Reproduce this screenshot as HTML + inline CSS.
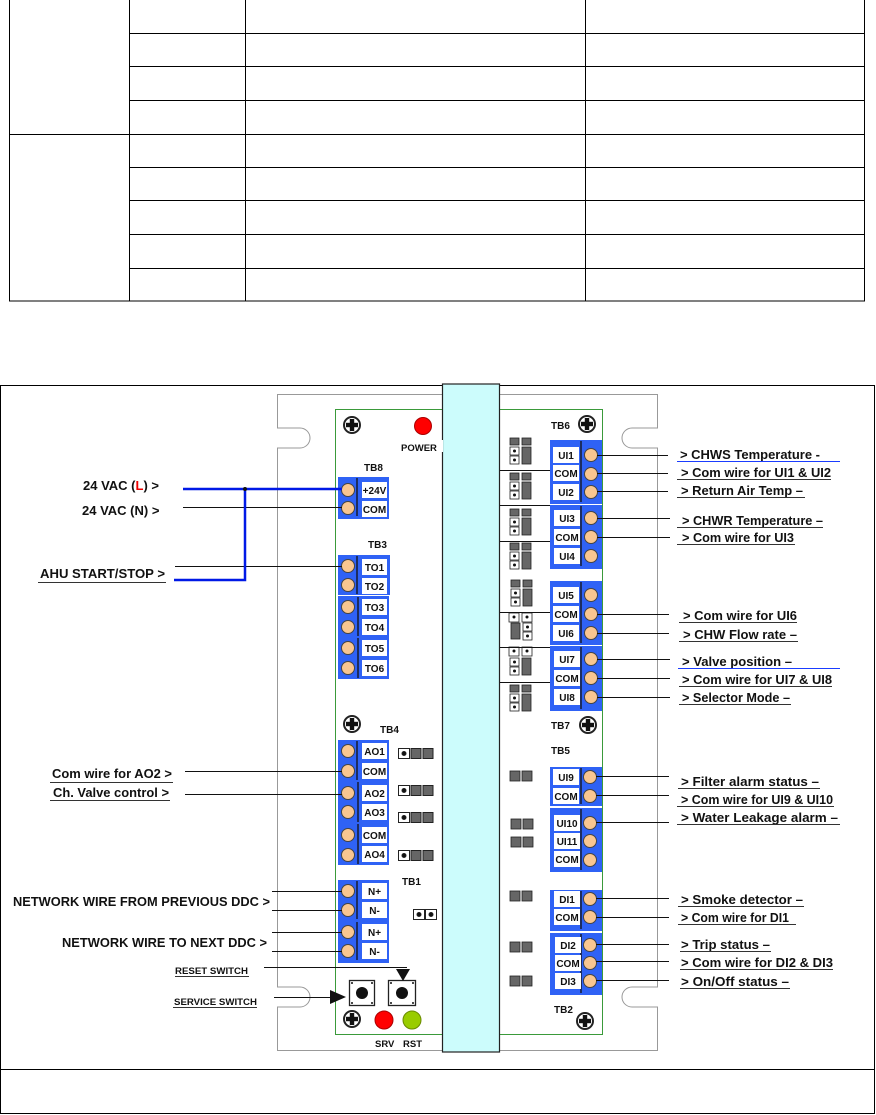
<!DOCTYPE html>
<html><head><meta charset="utf-8"><style>
html,body{margin:0;padding:0;background:#fff}
svg{display:block}
text{font-family:"Liberation Sans",sans-serif;font-weight:bold;fill:#111}
.t{font-size:13px}
.s{font-size:10px}
.lb{font-size:10px;text-anchor:middle}
</style></head><body>
<svg width="876" height="1115" viewBox="0 0 876 1115" xmlns="http://www.w3.org/2000/svg">
<g stroke="#000" stroke-width="1" fill="none">
<rect x="9.5" y="-1" width="855" height="302"/>
<line x1="129.5" y1="0" x2="129.5" y2="301"/>
<line x1="245.5" y1="0" x2="245.5" y2="301"/>
<line x1="585.5" y1="0" x2="585.5" y2="301"/>
<line x1="129" y1="33.5" x2="864" y2="33.5"/>
<line x1="129" y1="66.5" x2="864" y2="66.5"/>
<line x1="129" y1="100.5" x2="864" y2="100.5"/>
<line x1="9" y1="134.5" x2="864" y2="134.5"/>
<line x1="129" y1="167.5" x2="864" y2="167.5"/>
<line x1="129" y1="200.5" x2="864" y2="200.5"/>
<line x1="129" y1="234.5" x2="864" y2="234.5"/>
<line x1="129" y1="268.5" x2="864" y2="268.5"/>
</g>
<g stroke="#000" fill="none">
<rect x="0.5" y="385.5" width="874" height="728"/>
<line x1="0" y1="1069.5" x2="875" y2="1069.5"/>
</g>
<path d="M277.5 394.5 H657.5 V428 H632 a10 10 0 0 0 0 20 H657.5 V987 H632 a10 10 0 0 0 0 20 H657.5 V1050.5 H277.5 V1007 H300 a10 10 0 0 0 0 -20 H277.5 V448 H300 a10 10 0 0 0 0 -20 H277.5 Z" fill="#fff" stroke="#999" stroke-width="1"/>
<rect x="335.5" y="409.5" width="267" height="625" fill="#fff" stroke="#3a9a3a" stroke-width="1"/>
<rect x="442.5" y="384" width="57" height="668" fill="#ccfcfc" stroke="#222" stroke-width="1.2"/>
<rect x="435" y="440" width="8" height="12" fill="#fff"/>
<g>
<g transform="translate(352,425)"><circle r="8" fill="#fff" stroke="#222" stroke-width="2"/><rect x="-2.2" y="-6" width="4.4" height="12" fill="#111"/><rect x="-6" y="-2.2" width="12" height="4.4" fill="#111"/></g>
<g transform="translate(587,424)"><circle r="8" fill="#fff" stroke="#222" stroke-width="2"/><rect x="-2.2" y="-6" width="4.4" height="12" fill="#111"/><rect x="-6" y="-2.2" width="12" height="4.4" fill="#111"/></g>
<g transform="translate(352,724)"><circle r="8" fill="#fff" stroke="#222" stroke-width="2"/><rect x="-2.2" y="-6" width="4.4" height="12" fill="#111"/><rect x="-6" y="-2.2" width="12" height="4.4" fill="#111"/></g>
<g transform="translate(588,725)"><circle r="8" fill="#fff" stroke="#222" stroke-width="2"/><rect x="-2.2" y="-6" width="4.4" height="12" fill="#111"/><rect x="-6" y="-2.2" width="12" height="4.4" fill="#111"/></g>
<g transform="translate(352,1019)"><circle r="8" fill="#fff" stroke="#222" stroke-width="2"/><rect x="-2.2" y="-6" width="4.4" height="12" fill="#111"/><rect x="-6" y="-2.2" width="12" height="4.4" fill="#111"/></g>
<g transform="translate(585,1021)"><circle r="8" fill="#fff" stroke="#222" stroke-width="2"/><rect x="-2.2" y="-6" width="4.4" height="12" fill="#111"/><rect x="-6" y="-2.2" width="12" height="4.4" fill="#111"/></g>
</g>
<circle cx="423" cy="426" r="8.5" fill="#f00" stroke="#a00"/>
<circle cx="384" cy="1020" r="9" fill="#f00" stroke="#a00"/>
<circle cx="412" cy="1020" r="9" fill="#99cc00" stroke="#6a8a00"/>
<text x="401" y="451" class="s" style="font-size:9.5px">POWER</text>
<text x="375" y="1047" class="s" style="font-size:9.5px">SRV</text>
<text x="403" y="1047" class="s" style="font-size:9.5px">RST</text>
<text x="364" y="471" class="s">TB8</text>
<text x="368" y="548" class="s">TB3</text>
<text x="380" y="733" class="s">TB4</text>
<text x="402" y="885" class="s">TB1</text>
<text x="551" y="429" class="s">TB6</text>
<text x="551" y="729" class="s">TB7</text>
<text x="551" y="754" class="s">TB5</text>
<text x="554" y="1013" class="s">TB2</text>

<g fill="#2f62f5">
<rect x="338" y="477" width="51" height="42"/>
<rect x="338" y="555" width="52" height="40"/>
<rect x="338" y="596" width="51" height="83"/>
<rect x="338" y="740" width="51" height="125"/>
<rect x="338" y="880" width="51" height="41"/>
<rect x="338" y="921" width="51" height="42"/>
</g>
<g stroke="#111" stroke-width="1.3">
<line x1="357" y1="478" x2="357" y2="516"/>
<line x1="357" y1="556" x2="357" y2="594"/>
<line x1="358" y1="597" x2="358" y2="636"/>
<line x1="358" y1="638" x2="358" y2="678"/>
<line x1="357" y1="741" x2="357" y2="780"/>
<line x1="358" y1="782" x2="358" y2="822"/>
<line x1="358" y1="824" x2="358" y2="864"/>
<line x1="357" y1="881" x2="357" y2="919"/>
<line x1="357" y1="922" x2="357" y2="960"/>
</g>
<g fill="#fff">
<rect x="362" y="482" width="25" height="16"/><rect x="362" y="501" width="25" height="16"/>
<rect x="362" y="559" width="25" height="16"/><rect x="362" y="578" width="25" height="16"/>
<rect x="362" y="599" width="25" height="16"/><rect x="362" y="619" width="25" height="16"/>
<rect x="362" y="640" width="25" height="16"/><rect x="362" y="660" width="25" height="16"/>
<rect x="362" y="743" width="25" height="16"/><rect x="362" y="763" width="25" height="16"/>
<rect x="362" y="785" width="25" height="16"/><rect x="362" y="804" width="25" height="16"/>
<rect x="362" y="827" width="25" height="16"/><rect x="362" y="846" width="25" height="16"/>
<rect x="362" y="883" width="25" height="16"/><rect x="362" y="902" width="25" height="16"/>
<rect x="362" y="924" width="25" height="16"/><rect x="362" y="943" width="25" height="16"/>
</g>
<g>
<text x="374.5" y="494" class="lb">+24V</text><text x="374.5" y="513" class="lb">COM</text>
<text x="374.5" y="571" class="lb">TO1</text><text x="374.5" y="590" class="lb">TO2</text>
<text x="374.5" y="611" class="lb">TO3</text><text x="374.5" y="631" class="lb">TO4</text>
<text x="374.5" y="652" class="lb">TO5</text><text x="374.5" y="672" class="lb">TO6</text>
<text x="374.5" y="755" class="lb">AO1</text><text x="374.5" y="775" class="lb">COM</text>
<text x="374.5" y="797" class="lb">AO2</text><text x="374.5" y="816" class="lb">AO3</text>
<text x="374.5" y="839" class="lb">COM</text><text x="374.5" y="858" class="lb">AO4</text>
<text x="374.5" y="895" class="lb">N+</text><text x="374.5" y="914" class="lb">N-</text>
<text x="374.5" y="936" class="lb">N+</text><text x="374.5" y="955" class="lb">N-</text>
</g>
<g fill="#f9c690" stroke="#444" stroke-width="1">
<circle cx="348" cy="490" r="6.5"/><circle cx="348" cy="508" r="6.5"/>
<circle cx="348" cy="566" r="6.5"/><circle cx="348" cy="585" r="6.5"/>
<circle cx="348" cy="607" r="6.5"/><circle cx="348" cy="627" r="6.5"/>
<circle cx="348" cy="648" r="6.5"/><circle cx="348" cy="668" r="6.5"/>
<circle cx="348" cy="751" r="6.5"/><circle cx="348" cy="771" r="6.5"/>
<circle cx="348" cy="793" r="6.5"/><circle cx="348" cy="812" r="6.5"/>
<circle cx="348" cy="835" r="6.5"/><circle cx="348" cy="855" r="6.5"/>
<circle cx="348" cy="891" r="6.5"/><circle cx="348" cy="910" r="6.5"/>
<circle cx="348" cy="932" r="6.5"/><circle cx="348" cy="951" r="6.5"/>
</g>
<g stroke="#222" stroke-width="1">
<g transform="translate(398,748)"><rect x="0.5" y="0.5" width="11" height="10" fill="#fff"/><circle cx="6" cy="5.5" r="2" fill="#111"/><rect x="13" y="0.5" width="10" height="10" fill="#666"/><rect x="25" y="0.5" width="10" height="10" fill="#666"/></g>
<g transform="translate(398,785)"><rect x="0.5" y="0.5" width="11" height="10" fill="#fff"/><circle cx="6" cy="5.5" r="2" fill="#111"/><rect x="13" y="0.5" width="10" height="10" fill="#666"/><rect x="25" y="0.5" width="10" height="10" fill="#666"/></g>
<g transform="translate(398,812)"><rect x="0.5" y="0.5" width="11" height="10" fill="#fff"/><circle cx="6" cy="5.5" r="2" fill="#111"/><rect x="13" y="0.5" width="10" height="10" fill="#666"/><rect x="25" y="0.5" width="10" height="10" fill="#666"/></g>
<g transform="translate(398,850)"><rect x="0.5" y="0.5" width="11" height="10" fill="#fff"/><circle cx="6" cy="5.5" r="2" fill="#111"/><rect x="13" y="0.5" width="10" height="10" fill="#666"/><rect x="25" y="0.5" width="10" height="10" fill="#666"/></g>
<g transform="translate(413,909)"><rect x="0.5" y="0.5" width="11" height="10" fill="#fff"/><circle cx="6" cy="5.5" r="2" fill="#111"/><rect x="12.5" y="0.5" width="11" height="10" fill="#fff"/><circle cx="18" cy="5.5" r="2" fill="#111"/></g>
</g>
<g stroke="#222" stroke-width="1.3" fill="#fff">
<rect x="349.5" y="980.5" width="25" height="25"/>
<rect x="388.5" y="980.5" width="27" height="25"/>
</g>
<circle cx="362" cy="993" r="6" fill="#111"/>
<circle cx="402" cy="993" r="6" fill="#111"/>
<g fill="#111"><circle cx="352" cy="983" r="1"/><circle cx="372" cy="983" r="1"/><circle cx="352" cy="1003" r="1"/><circle cx="372" cy="1003" r="1"/>
<circle cx="391" cy="983" r="1"/><circle cx="413" cy="983" r="1"/><circle cx="391" cy="1003" r="1"/><circle cx="413" cy="1003" r="1"/></g>
<polygon points="330,990 346,997 330,1004" fill="#111"/>
<polygon points="396,969 410,969 403,981" fill="#111"/>

<g fill="#2f62f5">
<rect x="550" y="440" width="52" height="64"/>
<rect x="550" y="505" width="52" height="64"/>
<rect x="550" y="581" width="52" height="64"/>
<rect x="550" y="646" width="52" height="65"/>
<rect x="550" y="767" width="52" height="39"/>
<rect x="550" y="808" width="52" height="64"/>
<rect x="550" y="890" width="52" height="41"/>
<rect x="550" y="933" width="52" height="62"/>
</g>
<g stroke="#111" stroke-width="1.3">
<line x1="581" y1="441" x2="581" y2="502"/><line x1="581" y1="506" x2="581" y2="566"/>
<line x1="581" y1="582" x2="581" y2="643"/><line x1="581" y1="647" x2="581" y2="709"/>
<line x1="581" y1="768" x2="581" y2="804"/><line x1="581" y1="809" x2="581" y2="870"/>
<line x1="581" y1="891" x2="581" y2="929"/><line x1="581" y1="934" x2="581" y2="993"/>
</g>
<g fill="#fff">
<rect x="553" y="447" width="26" height="16"/><rect x="553" y="465" width="26" height="16"/><rect x="553" y="484" width="26" height="16"/>
<rect x="554" y="510" width="26" height="16"/><rect x="554" y="529" width="26" height="16"/><rect x="554" y="548" width="26" height="16"/>
<rect x="553" y="587" width="26" height="16"/><rect x="553" y="606" width="26" height="16"/><rect x="553" y="625" width="26" height="16"/>
<rect x="554" y="651" width="26" height="16"/><rect x="554" y="670" width="26" height="16"/><rect x="554" y="689" width="26" height="16"/>
<rect x="553" y="769" width="26" height="16"/><rect x="553" y="788" width="26" height="16"/>
<rect x="554" y="815" width="26" height="16"/><rect x="554" y="833" width="26" height="16"/><rect x="554" y="851" width="26" height="16"/>
<rect x="554" y="891" width="26" height="16"/><rect x="554" y="909" width="26" height="16"/>
<rect x="555" y="937" width="26" height="16"/><rect x="555" y="955" width="26" height="16"/><rect x="555" y="973" width="26" height="16"/>
</g>
<g>
<text x="566" y="459" class="lb">UI1</text><text x="566" y="477" class="lb">COM</text><text x="566" y="496" class="lb">UI2</text>
<text x="567" y="522" class="lb">UI3</text><text x="567" y="541" class="lb">COM</text><text x="567" y="560" class="lb">UI4</text>
<text x="566" y="599" class="lb">UI5</text><text x="566" y="618" class="lb">COM</text><text x="566" y="637" class="lb">UI6</text>
<text x="567" y="663" class="lb">UI7</text><text x="567" y="682" class="lb">COM</text><text x="567" y="701" class="lb">UI8</text>
<text x="566" y="781" class="lb">UI9</text><text x="566" y="800" class="lb">COM</text>
<text x="567" y="827" class="lb">UI10</text><text x="567" y="845" class="lb">UI11</text><text x="567" y="863" class="lb">COM</text>
<text x="567" y="903" class="lb">DI1</text><text x="567" y="921" class="lb">COM</text>
<text x="568" y="949" class="lb">DI2</text><text x="568" y="967" class="lb">COM</text><text x="568" y="985" class="lb">DI3</text>
</g>
<g fill="#f9c690" stroke="#444" stroke-width="1">
<circle cx="591" cy="455" r="6.5"/><circle cx="591" cy="474" r="6.5"/><circle cx="591" cy="492" r="6.5"/>
<circle cx="591" cy="518" r="6.5"/><circle cx="591" cy="537" r="6.5"/><circle cx="591" cy="556" r="6.5"/>
<circle cx="591" cy="595" r="6.5"/><circle cx="591" cy="614" r="6.5"/><circle cx="591" cy="633" r="6.5"/>
<circle cx="591" cy="659" r="6.5"/><circle cx="591" cy="678" r="6.5"/><circle cx="591" cy="697" r="6.5"/>
<circle cx="590" cy="777" r="6.5"/><circle cx="590" cy="796" r="6.5"/>
<circle cx="590" cy="823" r="6.5"/><circle cx="590" cy="841" r="6.5"/><circle cx="590" cy="860" r="6.5"/>
<circle cx="590" cy="899" r="6.5"/><circle cx="590" cy="917" r="6.5"/>
<circle cx="590" cy="945" r="6.5"/><circle cx="590" cy="963" r="6.5"/><circle cx="590" cy="981" r="6.5"/>
</g>
<g stroke="#222" stroke-width="0.8" fill="#666">
<rect x="510" y="438" width="9" height="7"/><rect x="522" y="438" width="9" height="7"/><rect x="510" y="447" width="9" height="8" fill="#fff"/><rect x="510" y="456" width="9" height="8" fill="#fff"/><rect x="522" y="447" width="9" height="17"/>
<rect x="510" y="473" width="9" height="7"/><rect x="522" y="473" width="9" height="7"/><rect x="510" y="482" width="9" height="8" fill="#fff"/><rect x="510" y="491" width="9" height="8" fill="#fff"/><rect x="522" y="482" width="9" height="17"/>
<rect x="510" y="509" width="9" height="7"/><rect x="522" y="509" width="9" height="7"/><rect x="510" y="518" width="9" height="8" fill="#fff"/><rect x="510" y="527" width="9" height="8" fill="#fff"/><rect x="522" y="518" width="9" height="17"/>
<rect x="510" y="543" width="9" height="7"/><rect x="522" y="543" width="9" height="7"/><rect x="510" y="552" width="9" height="8" fill="#fff"/><rect x="510" y="561" width="9" height="8" fill="#fff"/><rect x="522" y="552" width="9" height="17"/>
<rect x="511" y="580" width="9" height="7"/><rect x="523" y="580" width="9" height="7"/><rect x="511" y="589" width="9" height="8" fill="#fff"/><rect x="511" y="598" width="9" height="8" fill="#fff"/><rect x="523" y="589" width="9" height="17"/>
<rect x="509" y="613" width="10" height="9" fill="#fff"/><rect x="522" y="613" width="10" height="9" fill="#fff"/><rect x="511" y="623" width="9" height="16"/><rect x="523" y="623" width="9" height="8" fill="#fff"/><rect x="523" y="632" width="9" height="8" fill="#fff"/>
<rect x="509" y="647" width="10" height="9" fill="#fff"/><rect x="522" y="647" width="10" height="9" fill="#fff"/><rect x="510" y="658" width="9" height="8" fill="#fff"/><rect x="510" y="667" width="9" height="8" fill="#fff"/><rect x="522" y="658" width="9" height="17"/>
<rect x="510" y="685" width="9" height="7"/><rect x="522" y="685" width="9" height="7"/><rect x="510" y="694" width="9" height="8" fill="#fff"/><rect x="510" y="703" width="9" height="8" fill="#fff"/><rect x="522" y="694" width="9" height="17"/>
<rect x="510" y="771" width="10" height="10"/><rect x="522" y="771" width="10" height="10"/>
<rect x="511" y="819" width="10" height="10"/><rect x="523" y="819" width="10" height="10"/>
<rect x="511" y="837" width="10" height="10"/><rect x="523" y="837" width="10" height="10"/>
<rect x="510" y="891" width="10" height="10"/><rect x="522" y="891" width="10" height="10"/>
<rect x="510" y="942" width="10" height="10"/><rect x="522" y="942" width="10" height="10"/>
<rect x="510" y="976" width="10" height="10"/><rect x="522" y="976" width="10" height="10"/>
</g>
<g fill="#111"><circle cx="514.5" cy="451" r="1.5"/><circle cx="514.5" cy="460" r="1.5"/><circle cx="514.5" cy="486" r="1.5"/><circle cx="514.5" cy="495" r="1.5"/><circle cx="514.5" cy="522" r="1.5"/><circle cx="514.5" cy="531" r="1.5"/><circle cx="514.5" cy="556" r="1.5"/><circle cx="514.5" cy="565" r="1.5"/><circle cx="515.5" cy="593" r="1.5"/><circle cx="515.5" cy="602" r="1.5"/><circle cx="514" cy="617" r="1.5"/><circle cx="527" cy="617" r="1.5"/><circle cx="527.5" cy="627" r="1.5"/><circle cx="527.5" cy="636" r="1.5"/><circle cx="514" cy="651" r="1.5"/><circle cx="527" cy="651" r="1.5"/><circle cx="514.5" cy="662" r="1.5"/><circle cx="514.5" cy="671" r="1.5"/><circle cx="514.5" cy="698" r="1.5"/><circle cx="514.5" cy="707" r="1.5"/></g>
<g stroke="#111" stroke-width="1">
<line x1="500" y1="470.5" x2="550" y2="470.5"/>
<line x1="500" y1="505.5" x2="550" y2="505.5"/>
<line x1="500" y1="541.5" x2="550" y2="541.5"/>
<line x1="500" y1="612.5" x2="550" y2="612.5"/>
<line x1="500" y1="647.5" x2="550" y2="647.5"/>
<line x1="500" y1="682.5" x2="550" y2="682.5"/>
</g>

<g stroke="#111" stroke-width="1">
<line x1="183" y1="507.5" x2="342" y2="507.5"/>
<line x1="175" y1="566.5" x2="342" y2="566.5"/>
<line x1="185" y1="771.5" x2="342" y2="771.5"/>
<line x1="185" y1="794.5" x2="342" y2="794.5"/>
<line x1="272" y1="891.5" x2="342" y2="891.5"/>
<line x1="272" y1="910.5" x2="342" y2="910.5"/>
<line x1="272" y1="932.5" x2="342" y2="932.5"/>
<line x1="272" y1="951.5" x2="342" y2="951.5"/>
<line x1="264" y1="967.5" x2="407" y2="967.5"/>
<line x1="274" y1="997.5" x2="332" y2="997.5"/>
</g>
<g stroke="#0019e6" stroke-width="2.5" fill="none">
<polyline points="183,489 342,489"/>
<polyline points="245,489 245,580 174,580"/>
</g>
<circle cx="245" cy="489" r="2" fill="#111"/>

<text x="83" y="490" class="t">24 VAC (<tspan style="fill:#e00">L</tspan>)  &gt;</text>
<text x="82" y="515" class="t">24 VAC (N)  &gt;</text>
<text x="40" y="578" class="t" textLength="125" lengthAdjust="spacingAndGlyphs">AHU START/STOP &gt;</text>
<line x1="38" y1="582.5" x2="166" y2="582.5" stroke="#333"/>
<text x="52" y="778" class="t" textLength="120" lengthAdjust="spacingAndGlyphs">Com wire for AO2 &gt;</text>
<line x1="50" y1="782.5" x2="173" y2="782.5" stroke="#333"/>
<text x="53" y="797" class="t" textLength="116" lengthAdjust="spacingAndGlyphs">Ch. Valve control &gt;</text>
<line x1="50" y1="800.5" x2="170" y2="800.5" stroke="#333"/>
<text x="13" y="906" class="t" textLength="257" lengthAdjust="spacingAndGlyphs">NETWORK WIRE FROM PREVIOUS DDC &gt;</text>
<text x="62" y="947" class="t" textLength="205" lengthAdjust="spacingAndGlyphs">NETWORK WIRE TO NEXT DDC &gt;</text>
<text x="175" y="974" class="s" style="font-size:9.5px" textLength="73" lengthAdjust="spacingAndGlyphs">RESET SWITCH</text>
<line x1="175" y1="976.5" x2="249" y2="976.5" stroke="#333"/>
<text x="174" y="1005" class="s" style="font-size:9.5px" textLength="83" lengthAdjust="spacingAndGlyphs">SERVICE SWITCH</text>
<line x1="173" y1="1007.5" x2="257" y2="1007.5" stroke="#333"/>

<g stroke="#111" stroke-width="1">
<line x1="597" y1="455.5" x2="668" y2="455.5"/><line x1="597" y1="473.5" x2="668" y2="473.5"/><line x1="597" y1="491.5" x2="668" y2="491.5"/>
<line x1="597" y1="518.5" x2="670" y2="518.5"/><line x1="597" y1="537.5" x2="670" y2="537.5"/>
<line x1="597" y1="614.5" x2="669" y2="614.5"/><line x1="597" y1="633.5" x2="669" y2="633.5"/>
<line x1="597" y1="659.5" x2="670" y2="659.5"/><line x1="597" y1="678.5" x2="670" y2="678.5"/><line x1="597" y1="697.5" x2="670" y2="697.5"/>
<line x1="596" y1="776.5" x2="669" y2="776.5"/><line x1="596" y1="795.5" x2="669" y2="795.5"/><line x1="596" y1="822.5" x2="669" y2="822.5"/>
<line x1="596" y1="898.5" x2="669" y2="898.5"/><line x1="596" y1="917.5" x2="669" y2="917.5"/>
<line x1="596" y1="944.5" x2="669" y2="944.5"/><line x1="596" y1="961.5" x2="669" y2="961.5"/><line x1="596" y1="980.5" x2="669" y2="980.5"/>
</g>
<g>
<text x="680" y="459" class="t" textLength="140" lengthAdjust="spacingAndGlyphs">&gt; CHWS Temperature -</text>
<text x="681" y="477" class="t" textLength="150" lengthAdjust="spacingAndGlyphs">&gt; Com wire for UI1 &amp; UI2</text>
<text x="681" y="495" class="t" textLength="122" lengthAdjust="spacingAndGlyphs">&gt; Return Air Temp –</text>
<text x="682" y="525" class="t" textLength="141" lengthAdjust="spacingAndGlyphs">&gt; CHWR Temperature –</text>
<text x="682" y="542" class="t" textLength="112" lengthAdjust="spacingAndGlyphs">&gt; Com wire for UI3</text>
<text x="683" y="620" class="t" textLength="114" lengthAdjust="spacingAndGlyphs">&gt; Com wire for UI6</text>
<text x="683" y="639" class="t" textLength="114" lengthAdjust="spacingAndGlyphs">&gt; CHW Flow rate –</text>
<text x="682" y="666" class="t" textLength="110" lengthAdjust="spacingAndGlyphs">&gt; Valve position –</text>
<text x="682" y="684" class="t" textLength="150" lengthAdjust="spacingAndGlyphs">&gt; Com wire for UI7 &amp; UI8</text>
<text x="682" y="702" class="t" textLength="108" lengthAdjust="spacingAndGlyphs">&gt; Selector Mode –</text>
<text x="681" y="786" class="t" textLength="138" lengthAdjust="spacingAndGlyphs">&gt;  Filter alarm status –</text>
<text x="681" y="804" class="t" textLength="152" lengthAdjust="spacingAndGlyphs">&gt; Com wire for UI9 &amp; UI10</text>
<text x="681" y="822" class="t" textLength="157" lengthAdjust="spacingAndGlyphs">&gt;  Water Leakage alarm –</text>
<text x="681" y="904" class="t" textLength="122" lengthAdjust="spacingAndGlyphs">&gt; Smoke detector –</text>
<text x="681" y="922" class="t" textLength="108" lengthAdjust="spacingAndGlyphs">&gt; Com wire for DI1</text>
<text x="681" y="949" class="t" textLength="89" lengthAdjust="spacingAndGlyphs">&gt; Trip status –</text>
<text x="681" y="967" class="t" textLength="152" lengthAdjust="spacingAndGlyphs">&gt; Com wire for DI2 &amp; DI3</text>
<text x="681" y="986" class="t" textLength="108" lengthAdjust="spacingAndGlyphs">&gt; On/Off status –</text>
</g>
<g stroke="#333" stroke-width="1">
<line x1="677" y1="461.5" x2="840" y2="461.5" stroke="#1a3cff"/>
<line x1="677" y1="479.5" x2="831" y2="479.5"/>
<line x1="677" y1="497.5" x2="805" y2="497.5"/>
<line x1="677" y1="527.5" x2="823" y2="527.5"/>
<line x1="677" y1="544.5" x2="795" y2="544.5"/>
<line x1="679" y1="622.5" x2="797" y2="622.5"/>
<line x1="679" y1="641.5" x2="798" y2="641.5"/>
<line x1="678" y1="668.5" x2="840" y2="668.5" stroke="#1a3cff"/>
<line x1="679" y1="686.5" x2="832" y2="686.5"/>
<line x1="679" y1="704.5" x2="791" y2="704.5"/>
<line x1="678" y1="788.5" x2="820" y2="788.5"/>
<line x1="677" y1="806.5" x2="834" y2="806.5"/>
<line x1="677" y1="824.5" x2="840" y2="824.5"/>
<line x1="678" y1="906.5" x2="804" y2="906.5"/>
<line x1="678" y1="924.5" x2="796" y2="924.5"/>
<line x1="680" y1="951.5" x2="771" y2="951.5"/>
<line x1="680" y1="969.5" x2="833" y2="969.5"/>
<line x1="680" y1="988.5" x2="790" y2="988.5"/>
</g>
</svg>
</body></html>
